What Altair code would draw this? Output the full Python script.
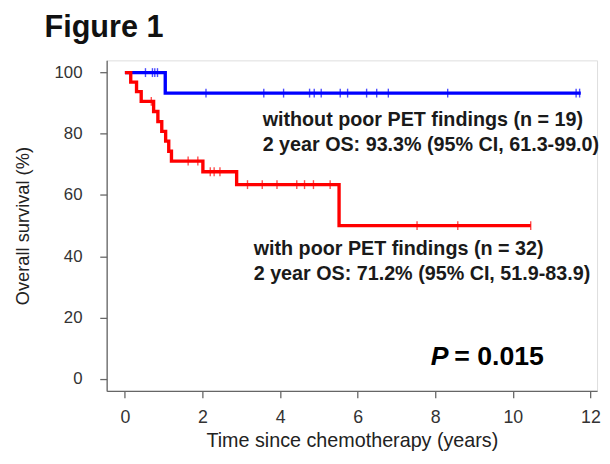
import altair as alt
import pandas as pd

# --- Kaplan-Meier step points (time in years, survival %) ---
blue_t = [0.0, 1.04, 11.75]
blue_s = [100.0, 93.3, 93.3]
red_t = [0.0, 0.15, 0.30, 0.42, 0.74, 0.85, 0.95, 1.05, 1.13, 1.20, 2.01, 2.88, 5.52, 10.46]
red_s = [100.0, 96.9, 93.8, 90.6, 87.3, 84.0, 80.8, 77.6, 74.3, 71.1, 67.6, 63.4, 50.0, 50.0]

# --- censored observations ---
blue_cens_t = [0.53, 0.71, 0.77, 0.84, 2.09, 3.58, 4.09, 4.76, 4.88, 5.06, 5.55, 5.74,
               6.23, 6.49, 6.79, 8.32, 11.63, 11.72]
blue_cens_s = [100.0, 100.0, 100.0, 100.0] + [93.3] * 14
red_cens_t = [0.68, 1.63, 1.88, 2.20, 2.30, 2.45, 3.16, 3.54, 3.92, 4.43, 4.63, 4.86,
              5.29, 7.53, 8.58, 10.46]
red_cens_s = [90.6, 71.1, 71.1, 67.6, 67.6, 67.6, 63.4, 63.4, 63.4, 63.4, 63.4, 63.4,
              63.4, 50.0, 50.0, 50.0]

x_ticks = [0, 2, 4, 6, 8, 10, 12]
y_ticks = [0, 20, 40, 60, 80, 100]

ann_blue = ["without poor PET findings (n = 19)", "2 year OS: 93.3% (95% CI, 61.3-99.0)"]
ann_red = ["with poor PET findings (n = 32)", "2 year OS: 71.2% (95% CI, 51.9-83.9)"]
ann_blue_pos = [(3.55, 84.6), (3.55, 76.4)]
ann_red_pos = [(3.32, 42.3), (3.32, 34.1)]
p_pos = (7.88, 7.0)

BLUE = "#0000FF"
RED = "#FF0000"
FONT = "Liberation Sans"

lines = pd.DataFrame({
    "t": blue_t + red_t,
    "s": blue_s + red_s,
    "g": ["without"] * len(blue_t) + ["with"] * len(red_t),
})
cens = pd.DataFrame({
    "t": blue_cens_t + red_cens_t,
    "s": blue_cens_s + red_cens_s,
    "g": ["without"] * len(blue_cens_t) + ["with"] * len(red_cens_t),
})
ann = pd.DataFrame({
    "t": [p[0] for p in ann_blue_pos] + [p[0] for p in ann_red_pos],
    "s": [p[1] for p in ann_blue_pos] + [p[1] for p in ann_red_pos],
    "label": ann_blue + ann_red,
})
pval = pd.DataFrame({"t": [p_pos[0]], "s": [p_pos[1]]})

xs = alt.Scale(domain=[-0.47, 12.17], nice=False, zero=False)
ys = alt.Scale(domain=[-4, 104], nice=False, zero=False)
color = alt.Color("g:N", scale=alt.Scale(domain=["without", "with"], range=[BLUE, RED]), legend=None)

xax = alt.Axis(values=x_ticks, title="Time since chemotherapy (years)", grid=False,
               labelFont=FONT, labelFontSize=18, labelColor="#333333",
               titleFont=FONT, titleFontSize=20, titleFontWeight="normal", titleColor="#222222",
               domainColor="#666666", domainWidth=1.3, tickColor="#666666", tickWidth=1.3,
               tickSize=7, labelPadding=11, titlePadding=4)
yax = alt.Axis(values=y_ticks, title="Overall survival (%)", grid=False,
               labelFont=FONT, labelFontSize=17, labelColor="#333333",
               titleFont=FONT, titleFontSize=18.5, titleFontWeight="normal", titleColor="#222222",
               domainColor="#666666", domainWidth=1.3, tickColor="#666666", tickWidth=1.3,
               tickSize=7, labelPadding=18, titlePadding=22)

base_line = alt.Chart(lines).mark_line(interpolate="step-after", strokeWidth=3.4).encode(
    x=alt.X("t:Q", scale=xs, axis=xax),
    y=alt.Y("s:Q", scale=ys, axis=yax),
    color=color,
    detail="g:N",
)
ticks = alt.Chart(cens).mark_tick(orient="vertical", size=9, thickness=1.4).encode(
    x=alt.X("t:Q", scale=xs),
    y=alt.Y("s:Q", scale=ys),
    color=color,
)
texts = alt.Chart(ann).mark_text(align="left", baseline="middle", font=FONT, fontSize=20,
                                 fontWeight="bold", color="#1a1a1a").encode(
    x=alt.X("t:Q", scale=xs),
    y=alt.Y("s:Q", scale=ys),
    text="label:N",
)
p_italic = alt.Chart(pval).mark_text(align="left", baseline="middle", font=FONT, fontSize=27,
                                     fontWeight="bold", fontStyle="italic", color="#000000").encode(
    x=alt.X("t:Q", scale=xs), y=alt.Y("s:Q", scale=ys), text=alt.value("P"))
p_rest = alt.Chart(pval).mark_text(align="left", baseline="middle", font=FONT, fontSize=27,
                                   fontWeight="bold", dx=24, color="#000000").encode(
    x=alt.X("t:Q", scale=xs), y=alt.Y("s:Q", scale=ys), text=alt.value("= 0.015"))

chart = alt.layer(base_line, ticks, texts, p_italic, p_rest).properties(
    width=497, height=335,
    title=alt.TitleParams("Figure 1", anchor="start", frame="group", dx=-63, fontSize=31,
                          font=FONT, fontWeight="bold", color="#111111", offset=17),
    autosize=alt.AutoSizeParams(type="none"),
    padding={"left": 100, "top": 50, "right": 5, "bottom": 70},
).configure_view(stroke=None).configure(background="white")

chart.save("out.html", embed_options={"renderer": "svg", "actions": False})
